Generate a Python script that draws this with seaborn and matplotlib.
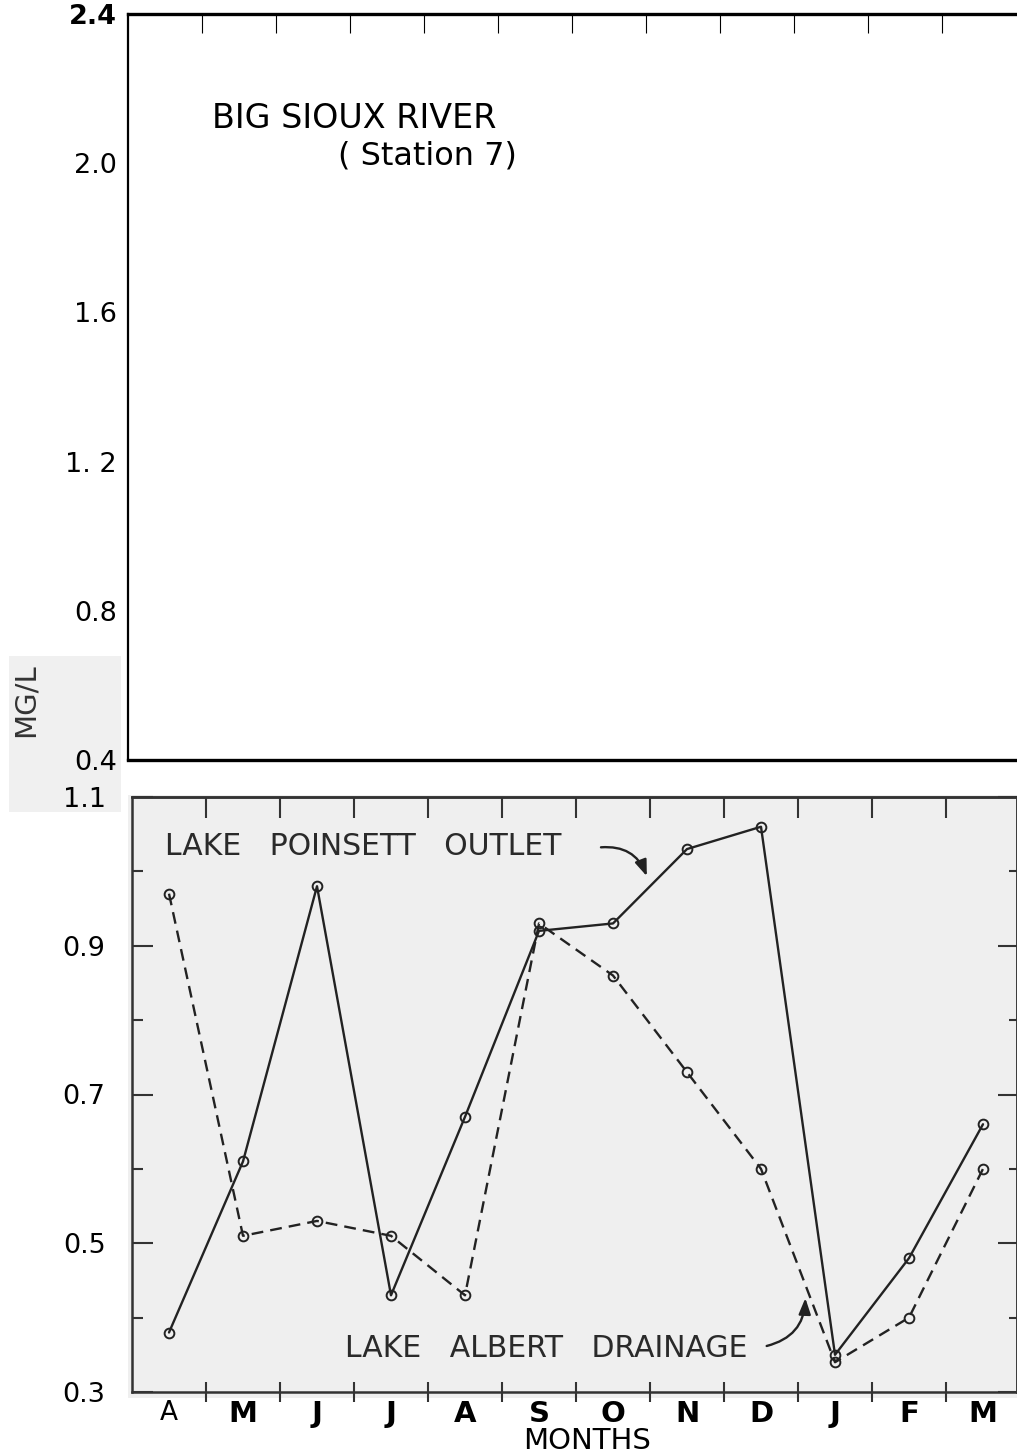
import matplotlib
matplotlib.use("Agg")
import matplotlib.pyplot as plt
import seaborn as sns
import numpy as np
from matplotlib.patches import Rectangle

# ---------------- data ----------------
months = ["A", "M", "J", "J", "A", "S", "O", "N", "D", "J", "F", "M"]
poinsett = [0.38, 0.61, 0.98, 0.43, 0.67, 0.92, 0.93, 1.03, 1.06, 0.35, 0.48, 0.66]
albert = [0.97, 0.51, 0.53, 0.51, 0.43, 0.93, 0.86, 0.73, 0.60, 0.34, 0.40, 0.60]
top_yticks = [0.4, 0.8, 1.2, 1.6, 2.0, 2.4]
top_ylabels = ["0.4", "0.8", "1. 2", "1.6", "2.0", "2.4"]
bot_yticks = [0.3, 0.5, 0.7, 0.9, 1.1]
bot_ylabels = ["0.3", "0.5", "0.7", "0.9", "1.1"]

sns.set_theme(style="white")
plt.rcParams['font.family'] = ['DejaVu Sans']

W, H = 1017, 1453
fig = plt.figure(figsize=(W / 100, H / 100), dpi=100)
fig.patch.set_facecolor("white")


def fx(px):
    return px / W


def fy(py):
    return 1 - py / H


GRAY = "#efefef"
INK = "#222222"
LBL = 19.5

# background patches (scanned panel + label box)
fig.add_artist(Rectangle((fx(128), fy(1398)), fx(1017) - fx(128), fy(795) - fy(1398),
                         transform=fig.transFigure, facecolor=GRAY, edgecolor="none", zorder=-1))
box = Rectangle((fx(9), fy(812)), fx(121) - fx(9), fy(656) - fy(812),
                transform=fig.transFigure, facecolor="#f0f0f0", edgecolor="none", zorder=-1)
fig.add_artist(box)

# ---------------- top (empty) panel ----------------
ax_top = fig.add_axes([fx(128), fy(760), fx(1017) - fx(128), fy(14) - fy(760)])
ax_top.set_facecolor("white")
ax_top.set_xlim(-0.5, -0.5 + 889 / 74)
ax_top.set_ylim(0.4, 2.4)
ax_top.set_yticks(top_yticks)
ax_top.set_yticklabels(top_ylabels, fontsize=LBL, color="black")
ax_top.tick_params(axis="y", length=0, pad=8)
for lab in ax_top.get_yticklabels():
    if lab.get_text() == "2.4":
        lab.set_fontweight("bold")
ax_top.set_xticks(np.arange(0.5, 11, 1.0))
ax_top.set_xticks([2.5, 5.5, 9.5], minor=True)
ax_top.tick_params(axis="x", which="major", top=True, bottom=False, direction="in",
                   length=14, width=0.8, color="black", labeltop=False, labelbottom=False)
ax_top.tick_params(axis="x", which="minor", top=False, bottom=True, direction="in",
                   length=12, width=0.8, color="black", labelbottom=False)
ax_top.spines["right"].set_visible(False)
for s, lw in [("top", 2.4), ("bottom", 2.4), ("left", 1.6)]:
    ax_top.spines[s].set_visible(True)
    ax_top.spines[s].set_color("black")
    ax_top.spines[s].set_linewidth(lw)

ax_top.text(-0.5 + (212 - 128) / 74, 0.4 + (760 - 119) / 373, "BIG SIOUX RIVER",
            fontsize=24, ha="left", va="center", color="black")
ax_top.text(-0.5 + (517 - 128) / 74, 0.4 + (760 - 156) / 373, "( Station 7)",
            fontsize=23, ha="right", va="center", color="black")

# ---------------- bottom panel ----------------
ax = fig.add_axes([fx(132), fy(1392), fx(1017) - fx(132), fy(797) - fy(1392)])
ax.set_facecolor(GRAY)
xpos = np.arange(len(months))

sns.lineplot(x=xpos, y=poinsett, ax=ax, color=INK, linewidth=1.7, marker="o",
             markersize=7, markerfacecolor="none", markeredgecolor=INK, markeredgewidth=1.4)
sns.lineplot(x=xpos, y=albert, ax=ax, color=INK, linewidth=1.7, linestyle=(0, (5, 3)),
             marker="o", markersize=7, markerfacecolor="none", markeredgecolor=INK,
             markeredgewidth=1.4)

ax.set_xlim(-0.5, -0.5 + 885 / 74)
ax.set_ylim(0.3, 1.1)
ax.set_xlabel("")
ax.set_ylabel("")

ax.set_xticks(np.arange(0.5, 11, 1.0))
ax.set_xticklabels([])
ax.set_xticks(xpos, minor=True)
ax.set_xticklabels(months, minor=True)
ax.tick_params(axis="x", which="major", bottom=True, top=False, direction="inout",
               length=15, width=1.5, color="#333333")
ax.tick_params(axis="x", which="minor", bottom=True, length=0, pad=6)
for i, lab in enumerate(ax.get_xticklabels(minor=True)):
    if i == 0:
        lab.set_fontsize(19)
        lab.set_fontweight("normal")
    else:
        lab.set_fontsize(21)
        lab.set_fontweight("heavy")
    lab.set_color("black")

ax.set_yticks(bot_yticks)
ax.set_yticklabels(bot_ylabels, fontsize=LBL, color="black")
ax.set_yticks([0.4, 0.6, 0.8, 1.0], minor=True)
ax.tick_params(axis="y", which="major", left=True, direction="in", length=15, width=1.5,
               color="#333333", pad=19)
ax.tick_params(axis="y", which="minor", left=True, direction="in", length=8, width=1.5,
               color="#333333")

sec_x = ax.secondary_xaxis("top")
sec_x.set_xticks(np.arange(0.5, 11, 1.0))
sec_x.tick_params(axis="x", direction="in", length=15, width=1.5, color="#333333",
                  labeltop=False)
sec_y = ax.secondary_yaxis("right")
sec_y.set_yticks(bot_yticks)
sec_y.set_yticks([0.4, 0.6, 0.8, 1.0], minor=True)
sec_y.tick_params(axis="y", which="major", direction="in", length=14, width=1.5,
                  color="#333333", labelright=False)
sec_y.tick_params(axis="y", which="minor", direction="in", length=6, width=1.5,
                  color="#333333", labelright=False)
for a in (sec_x, sec_y):
    for s in a.spines.values():
        s.set_color("#333333")
        s.set_linewidth(1.8)

for s in ["top", "bottom", "left", "right"]:
    ax.spines[s].set_visible(True)
    ax.spines[s].set_color("#333333")
    ax.spines[s].set_linewidth(1.8)

# annotations
ax.text(-0.054, 1.033, "LAKE   POINSETT   OUTLET", fontsize=21.5, ha="left", va="center",
        color="#2a2a2a")
ax.annotate("", xy=(6.47, 0.99), xytext=(5.8, 1.032),
            arrowprops=dict(arrowstyle="-|>,head_length=0.8,head_width=0.3", color=INK,
                            lw=1.7, connectionstyle="arc3,rad=-0.4"))
ax.text(2.38, 0.359, "LAKE   ALBERT   DRAINAGE", fontsize=21.5, ha="left", va="center",
        color="#2a2a2a")
ax.annotate("", xy=(8.6, 0.43), xytext=(8.04, 0.361),
            arrowprops=dict(arrowstyle="-|>,head_length=0.8,head_width=0.3", color=INK,
                            lw=1.7, connectionstyle="arc3,rad=0.4"))

fig.text(fx(587), fy(1441), "MONTHS", fontsize=21, ha="center", va="center", color="black")
mg = fig.text(fx(26), fy(700), "MG/L", fontsize=21, ha="center", va="center", rotation=90,
              color="#333333")
mg.set_clip_path(box)

fig.savefig("out.png", dpi=100)
